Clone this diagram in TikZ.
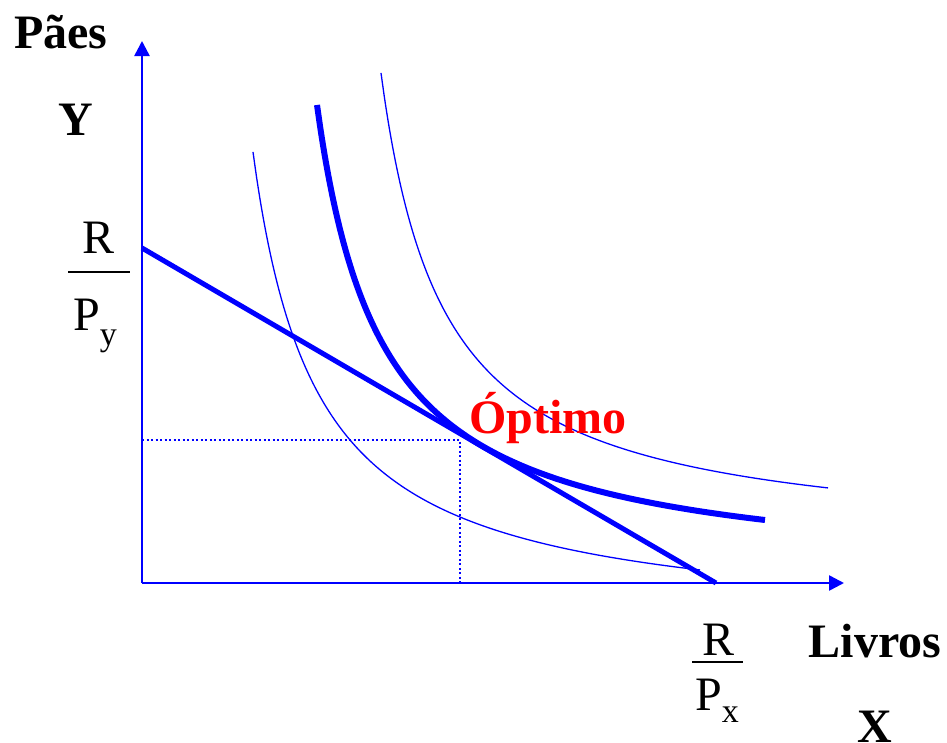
\documentclass[tikz,border=0pt]{standalone}
\usepackage{fontspec}
\setmainfont{Liberation Serif}
\usetikzlibrary{arrows.meta}

\begin{document}
\begin{tikzpicture}[
  x=1pt, y=-1pt,
  axis/.style={draw=blue, line width=2.5pt, -{Triangle[length=15pt, width=15pt]}},
  budget/.style={draw=blue, line width=5pt},
  indiff/.style={draw=blue, line width=1.3pt},
  bestindiff/.style={draw=blue, line width=6pt},
  guide/.style={draw=blue, line width=2.4pt, dash pattern=on 2pt off 2.5pt},
  lbl/.style={font=\fontsize{48}{56}\selectfont\bfseries, inner sep=0pt, anchor=base},
  fracpart/.style={font=\fontsize{48}{56}\selectfont, inner sep=0pt, anchor=base},
  fracbar/.style={draw=black, line width=2pt}
]
  \useasboundingbox (0,0) rectangle (947,742);

  % axes
  \coordinate (O) at (142,583);
  \coordinate (ytop) at (142,41);
  \coordinate (xend) at (844,583);
  \draw[axis] (O) -- (ytop);
  \draw[axis] (O) -- (xend);

  % indifference curves
  \draw[indiff] plot[domain=253:700, samples=120, smooth] (\x, {629.7 - 305.27/((\x-189.1)/100)});
  \draw[indiff] plot[domain=381:828, samples=120, smooth] (\x, {546.2 - 297.18/((\x-318.2)/100)});

  % budget line and optimum
  \coordinate (by) at (142,248);
  \coordinate (bx) at (716,583);
  \coordinate (best) at (460,440);
  \draw[guide] (best -| O) -- (best) -- (best |- O);
  \draw[budget] (by) -- (bx);
  \draw[bestindiff] plot[domain=317:765, samples=120, smooth] (\x, {580.2 - 308.89/((\x-252)/100)});

  % labels
  \node[lbl] (paes) at (61,48) {Pães};
  \node[lbl] (ylbl) at (76,135) {Y};
  \node[lbl] (livros) at (875,657) {Livros};
  \node[lbl] (xlbl) at (875,742) {X};
  \node[lbl, text=red] (otimo) at (548,433) {Óptimo};

  % R/Py
  \node[fracpart] (ry) at (99,253) {R};
  \node[fracpart, anchor=base west] (py) at (73,330) {P\raisebox{-15pt}{\fontsize{34}{34}\selectfont y}};
  \draw[fracbar] (68,272) -- (130,272);

  % R/Px
  \node[fracpart] (rx) at (718,655) {R};
  \node[fracpart, anchor=base west] (px) at (695,710) {P\raisebox{-12pt}{\fontsize{34}{34}\selectfont x}};
  \draw[fracbar] (692,662) -- (743,662);
\end{tikzpicture}
\end{document}
